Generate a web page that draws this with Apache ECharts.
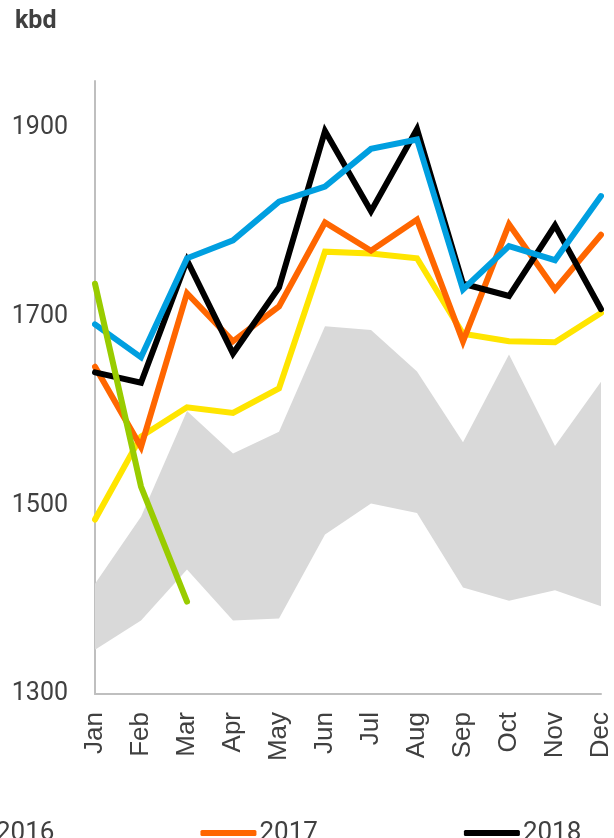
<!DOCTYPE html>
<html>
<head>
<meta charset="utf-8">
<script src="https://cdn.jsdelivr.net/npm/echarts@6/dist/echarts.min.js"></script>
<style>
  html, body { margin: 0; padding: 0; background: #fff; }
  #chart { width: 614px; height: 838px; }
</style>
</head>
<body>
<div id="chart"></div>
<script>
// Monthly volumes, kbd
const months = ['Jan', 'Feb', 'Mar', 'Apr', 'May', 'Jun', 'Jul', 'Aug', 'Sep', 'Oct', 'Nov', 'Dec'];
const rangeLow  = [1347, 1378, 1432, 1378, 1380, 1469, 1502, 1492, 1413, 1399, 1410, 1393];
const rangeHigh = [1417, 1488, 1600, 1555, 1578, 1690, 1686, 1642, 1567, 1660, 1563, 1631];
const y2016 = [1485, 1573, 1604, 1598, 1624, 1769, 1767, 1762, 1682, 1674, 1673, 1704];
const y2017 = [1647, 1562, 1725, 1674, 1711, 1800, 1770, 1803, 1674, 1798, 1729, 1787];
const y2018 = [1641, 1630, 1760, 1661, 1731, 1897, 1812, 1899, 1735, 1722, 1797, 1708];
const y2019 = [1692, 1657, 1762, 1781, 1822, 1838, 1878, 1888, 1729, 1775, 1760, 1828];
const y2020 = [1735, 1520, 1398];
const yTicks = [1300, 1500, 1700, 1900];

const FONT = 'Roboto';
const CAT_FONT = 'Liberation Sans';
const TEXT = '#404040';

// band is stacked: invisible base at the low edge, grey fill up to the high edge
const rangeSpan = rangeHigh.map((h, i) => h - rangeLow[i]);

function lineSeries(name, data, color) {
  return {
    name, type: 'line', data,
    symbol: 'none', smooth: false,
    lineStyle: { color, width: 6, cap: 'round', join: 'miter' },
    itemStyle: { color },
    emphasis: { disabled: true }
  };
}

const chart = echarts.init(document.getElementById('chart'), null, { renderer: 'canvas' });
chart.setOption({
  animation: false,
  backgroundColor: '#fff',
  textStyle: { fontFamily: FONT },
  graphic: [{
    type: 'text', left: 15, top: 9,
    style: { text: 'kbd', font: 'bold 25px ' + FONT, fill: TEXT }
  }],
  grid: { left: 95, right: 11, top: 81, bottom: 144, containLabel: false },
  legend: {
    data: ['2016', '2017', '2018'],
    left: -68, top: 815,
    icon: 'roundRect', itemWidth: 56, itemHeight: 6, itemGap: 146,
    textStyle: { fontSize: 26, color: TEXT, fontFamily: FONT, padding: [0, 0, 0, -2] }
  },
  xAxis: {
    type: 'category', data: months, boundaryGap: false,
    axisLine: { lineStyle: { color: '#bfbfbf', width: 2 } },
    axisTick: { show: false },
    axisLabel: { rotate: 90, fontSize: 26, color: TEXT, fontFamily: CAT_FONT, margin: 18, interval: 0 },
    splitLine: { show: false }
  },
  yAxis: {
    type: 'value', min: yTicks[0], max: 1950, interval: yTicks[1] - yTicks[0],
    axisLine: { show: true, lineStyle: { color: '#bfbfbf', width: 2 } },
    axisTick: { show: false },
    axisLabel: {
      fontSize: 25, color: TEXT, fontFamily: FONT, margin: 27,
      formatter: v => (yTicks.includes(v) ? String(v) : '')
    },
    splitLine: { show: false }
  },
  series: [
    {
      name: 'low', type: 'line', data: rangeLow, stack: 'range',
      symbol: 'none', lineStyle: { width: 0 }, areaStyle: { opacity: 0 },
      emphasis: { disabled: true }, silent: true
    },
    {
      name: '2011-2015 range', type: 'line', data: rangeSpan, stack: 'range',
      symbol: 'none', lineStyle: { width: 0 },
      areaStyle: { color: '#d9d9d9', opacity: 1 },
      emphasis: { disabled: true }, silent: true
    },
    lineSeries('2016', y2016, '#ffe500'),
    lineSeries('2017', y2017, '#ff6600'),
    lineSeries('2018', y2018, '#000000'),
    lineSeries('2019', y2019, '#009fe0'),
    lineSeries('2020', y2020, '#99cc00')
  ]
});
</script>
</body>
</html>
